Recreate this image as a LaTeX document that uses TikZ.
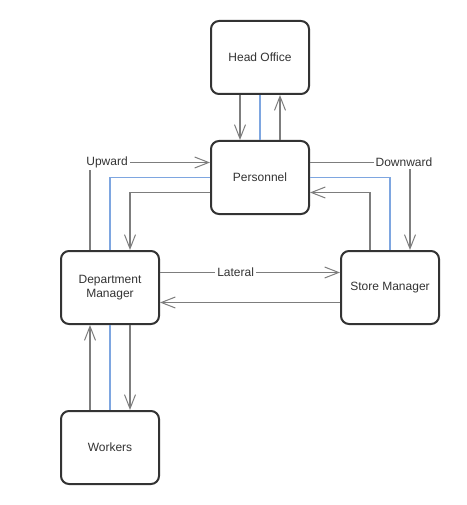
\documentclass[tikz,border=0pt]{standalone}
\usepackage{fontspec}
\setmainfont{Liberation Sans}
\usetikzlibrary{arrows.meta, positioning}

\definecolor{boxline}{RGB}{51,51,51}
\definecolor{connline}{RGB}{125,125,125}
\definecolor{infoline}{RGB}{126,166,224}

\begin{document}
\begin{tikzpicture}[x=1pt, y=-1pt,
		unit/.style={draw=boxline, line width=2pt, rounded corners=8pt, fill=white,
			minimum width=98pt, minimum height=73pt, align=center, text=boxline,
			font=\fontsize{12}{14}\selectfont},
		conn/.style={draw=connline, line width=1.5pt},
		info/.style={draw=infoline, line width=1.2pt},
		flow/.style={conn, -{Straight Barb[length=14pt, width=11pt, line width=1pt]}},
		tag/.style={fill=white, inner sep=2pt, text=boxline, font=\fontsize{12}{14}\selectfont}]
	\useasboundingbox (0,0) rectangle (466,505);
	% the five units
	\node[unit] (head) at (260,57.5) {Head Office};
	\node[unit] (pers) at (260,177.5) {Personnel};
	\node[unit] (dept) at (110,287.5) {Department\\Manager};
	\node[unit] (store) at (390,287.5) {Store Manager};
	\node[unit] (work) at (110,447.5) {Workers};
	% head office and personnel
	\draw[flow] ([xshift=-20pt]head.south) -- ([xshift=-20pt]pers.north);
	\draw[info] (head.south) -- (pers.north);
	\draw[flow] ([xshift=20pt]pers.north) -- ([xshift=20pt]head.south);
	% personnel and department manager
	\draw[flow] ([xshift=-20pt]dept.north) |- ([yshift=15pt]pers.west) node[tag, pos=0.571] (up) {Upward};
	\draw[info] (dept.north) |- (pers.west);
	\draw[flow] ([yshift=-15pt]pers.west) -| ([xshift=20pt]dept.north);
	% personnel and store manager
	\draw[flow] ([yshift=15pt]pers.east) -| ([xshift=20pt]store.north) node[tag, pos=0.47] (down) {Downward};
	\draw[info] (pers.east) -| (store.north);
	\draw[flow] ([xshift=-20pt]store.north) |- ([yshift=-15pt]pers.east);
	% department manager and store manager
	\draw[flow] ([yshift=15pt]dept.east) -- ([yshift=15pt]store.west) node[tag, pos=0.42] (lat) {Lateral};
	\draw[flow] ([yshift=-15pt]store.west) -- ([yshift=-15pt]dept.east);
	% department manager and workers
	\draw[flow] ([xshift=-20pt]work.north) -- ([xshift=-20pt]dept.south);
	\draw[info] (dept.south) -- (work.north);
	\draw[flow] ([xshift=20pt]dept.south) -- ([xshift=20pt]work.north);
\end{tikzpicture}
\end{document}
